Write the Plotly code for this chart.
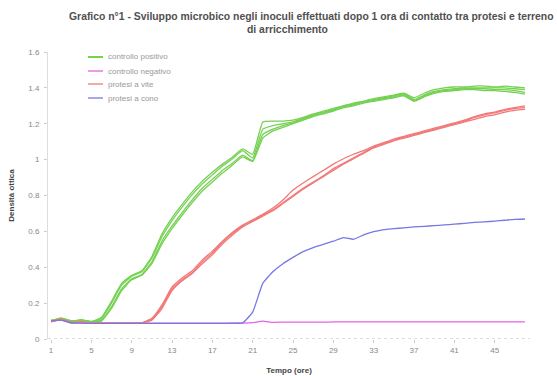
import plotly.graph_objects as go

hours = list(range(1, 49))
x_tick_vals = [1, 5, 9, 13, 17, 21, 25, 29, 33, 37, 41, 45]
y_tick_vals = [0, 0.2, 0.4, 0.6, 0.8, 1.0, 1.2, 1.4, 1.6]

pos_1 = [0.10,0.118,0.10,0.105,0.098,0.12,0.21,0.31,0.355,0.38,0.46,0.585,0.675,0.75,0.82,0.88,0.93,0.975,1.015,1.06,1.03,1.21,1.215,1.215,1.22,1.235,1.255,1.27,1.285,1.30,1.315,1.325,1.34,1.35,1.36,1.37,1.345,1.37,1.39,1.40,1.405,1.405,1.41,1.41,1.405,1.41,1.405,1.40]
pos_2 = [0.105,0.112,0.098,0.108,0.096,0.115,0.20,0.30,0.35,0.375,0.45,0.57,0.66,0.735,0.805,0.865,0.915,0.965,1.005,1.05,1.01,1.17,1.19,1.20,1.21,1.23,1.25,1.265,1.28,1.30,1.31,1.325,1.335,1.345,1.355,1.365,1.335,1.36,1.38,1.39,1.395,1.40,1.40,1.40,1.40,1.40,1.395,1.39]
pos_3 = [0.098,0.115,0.102,0.103,0.097,0.105,0.18,0.28,0.335,0.36,0.43,0.545,0.63,0.705,0.775,0.84,0.89,0.94,0.98,1.025,0.995,1.14,1.17,1.19,1.205,1.225,1.245,1.26,1.275,1.295,1.305,1.32,1.33,1.34,1.35,1.36,1.33,1.355,1.375,1.385,1.39,1.395,1.395,1.395,1.39,1.39,1.385,1.375]
pos_4 = [0.102,0.11,0.097,0.104,0.095,0.10,0.17,0.27,0.33,0.355,0.42,0.53,0.615,0.69,0.76,0.825,0.875,0.925,0.97,1.015,0.99,1.12,1.16,1.18,1.20,1.22,1.24,1.255,1.27,1.29,1.30,1.315,1.325,1.335,1.345,1.355,1.325,1.35,1.37,1.38,1.385,1.39,1.39,1.385,1.385,1.38,1.375,1.365]

neg_1 = [0.098,0.108,0.092,0.09,0.089,0.089,0.089,0.089,0.089,0.089,0.089,0.089,0.089,0.089,0.089,0.089,0.089,0.089,0.089,0.089,0.091,0.10,0.093,0.094,0.094,0.094,0.094,0.094,0.095,0.095,0.095,0.095,0.095,0.095,0.095,0.095,0.095,0.095,0.095,0.095,0.095,0.095,0.096,0.096,0.096,0.096,0.096,0.096]

vite_1 = [0.095,0.11,0.09,0.095,0.088,0.088,0.088,0.088,0.089,0.09,0.115,0.19,0.29,0.34,0.38,0.44,0.49,0.545,0.595,0.635,0.665,0.695,0.73,0.775,0.83,0.87,0.905,0.94,0.975,1.005,1.03,1.05,1.075,1.095,1.115,1.13,1.145,1.16,1.175,1.19,1.205,1.22,1.24,1.255,1.265,1.28,1.29,1.30]
vite_2 = [0.1,0.105,0.092,0.094,0.088,0.088,0.088,0.088,0.088,0.09,0.11,0.18,0.28,0.33,0.37,0.43,0.48,0.54,0.59,0.63,0.66,0.69,0.72,0.76,0.80,0.84,0.875,0.91,0.95,0.98,1.01,1.04,1.07,1.09,1.11,1.125,1.14,1.155,1.17,1.185,1.20,1.215,1.235,1.25,1.26,1.275,1.285,1.29]
vite_3 = [0.097,0.108,0.09,0.096,0.088,0.087,0.087,0.087,0.088,0.089,0.105,0.17,0.27,0.325,0.365,0.42,0.47,0.53,0.58,0.625,0.655,0.685,0.715,0.755,0.795,0.835,0.87,0.905,0.94,0.975,1.005,1.035,1.065,1.085,1.105,1.12,1.135,1.15,1.165,1.18,1.195,1.21,1.225,1.24,1.25,1.265,1.275,1.28]

cono_1 = [0.1,0.105,0.09,0.088,0.087,0.087,0.087,0.087,0.087,0.087,0.087,0.087,0.087,0.087,0.087,0.087,0.087,0.087,0.088,0.09,0.15,0.31,0.375,0.42,0.455,0.487,0.51,0.528,0.545,0.565,0.556,0.58,0.598,0.61,0.615,0.62,0.625,0.628,0.632,0.636,0.64,0.645,0.65,0.653,0.657,0.662,0.667,0.669]

groups = [
    ("controllo positivo", "#74d152", [pos_1, pos_2, pos_3, pos_4]),
    ("controllo negativo", "#e463e4", [neg_1]),
    ("protesi a vite", "#f27878", [vite_1, vite_2, vite_3]),
    ("protesi a cono", "#7777e6", [cono_1]),
]

# plot area in pixels
L, R, T, B = 48, 530, 52, 339
W, H = 557, 376
pw, ph = R - L, B - T

def px_x(x):
    return (x - L) / pw

def px_y(y):
    return (B - y) / ph

fig = go.Figure()
for name, color, series in groups:
    for i, ys in enumerate(series):
        assert len(ys) == len(hours), (name, i, len(ys))
        fig.add_trace(go.Scatter(
            x=hours, y=ys, mode="lines", name=name,
            legendgroup=name, showlegend=False,
            line=dict(color=color, width=1.3, shape="spline", smoothing=0.4),
        ))

font_family = "Liberation Sans, Arial, sans-serif"

fig.update_layout(
    width=W, height=H,
    margin=dict(l=L, r=W - R, t=T, b=H - B, autoexpand=False),
    paper_bgcolor="white", plot_bgcolor="white",
    font=dict(family=font_family, size=8, color="#666"),
    showlegend=False,
    xaxis=dict(
        range=[0.7, 48.5], tickmode="array", tickvals=x_tick_vals,
        showgrid=False, zeroline=False, showline=False, automargin=False,
        ticks="outside", ticklen=3, tickcolor="#ccc",
        tickfont=dict(size=8, color="#888"),
        title=dict(text="<b>Tempo (ore)</b>", font=dict(size=8, color="#444"), standoff=13),
    ),
    yaxis=dict(
        range=[0, 1.6], tickmode="array", tickvals=y_tick_vals,
        ticktext=["0", "0.2", "0.4", "0.6", "0.8", "1", "1.2", "1.4", "1.6"],
        showgrid=False, zeroline=False, showline=True, linecolor="#ddd", linewidth=1,
        automargin=False, ticklabelstandoff=3,
        ticks="outside", ticklen=3, tickcolor="#ccc",
        tickfont=dict(size=8, color="#888"),
        title=dict(text="<b>Densità ottica</b>", font=dict(size=8, color="#444"), standoff=12),
    ),
)

fig.add_shape(type="line", xref="paper", yref="y", x0=0, x1=1, y0=0, y1=0,
              line=dict(color="#bbb", width=1, dash="dot"))

# title (two centred lines)
fig.add_annotation(
    text="<b>Grafico n°1 - Sviluppo microbico negli inoculi effettuati dopo 1 ora di contatto tra protesi e terreno</b>",
    xref="paper", yref="paper", x=px_x(311), y=px_y(17),
    showarrow=False, xanchor="center", yanchor="middle",
    font=dict(size=10.4, color="#505050", family=font_family),
)
fig.add_annotation(
    text="<b>di arricchimento</b>",
    xref="paper", yref="paper", x=px_x(287), y=px_y(30),
    showarrow=False, xanchor="center", yanchor="middle",
    font=dict(size=10.4, color="#505050", family=font_family),
)

# legend drawn compactly inside the plot
legend_rows = [57, 71, 84, 98]
for (name, color, _), ry in zip(groups, legend_rows):
    fig.add_shape(type="line", xref="paper", yref="paper",
                  x0=px_x(88), x1=px_x(103), y0=px_y(ry), y1=px_y(ry),
                  line=dict(color=color, width=2 if name == "controllo positivo" else 1.3))
    fig.add_annotation(text=name, xref="paper", yref="paper",
                       x=px_x(106), y=px_y(ry), xanchor="left", yanchor="middle",
                       showarrow=False, font=dict(size=8, color="#999", family=font_family))

fig.write_html("out.html")
